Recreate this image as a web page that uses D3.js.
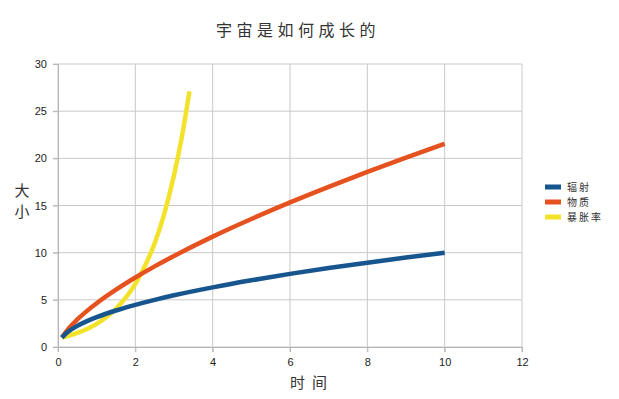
<!DOCTYPE html>
<html>
<head>
<meta charset="utf-8">
<script src="https://cdn.jsdelivr.net/npm/d3@7"></script>
<style>
  body { margin: 0; background: #fff; }
  text { font-family: "Liberation Sans", Arial, sans-serif; }
  .cjk { font-family: "Noto Sans CJK SC", sans-serif; }
</style>
</head>
<body>
<svg id="chart" width="619" height="399"></svg>
<script>
// data
const seriesNames = ["辐射", "物质", "暴胀率"];
const colors = ["#17558f", "#e6521f", "#f3e22a"];

const radiationT = [0.1, 0.25, 0.5, 0.75, 1, 1.5, 2, 2.5, 3, 4, 5, 6, 7, 8, 9, 10];
const radiationY = [1, 1.58, 2.24, 2.74, 3.16, 3.87, 4.47, 5.0, 5.48, 6.32, 7.07, 7.75, 8.37, 8.94, 9.49, 10];

const matterT = [0.1, 0.25, 0.5, 0.75, 1, 1.5, 2, 2.5, 3, 4, 5, 6, 7, 8, 9, 10];
const matterY = [1, 1.84, 2.92, 3.83, 4.64, 6.08, 7.37, 8.55, 9.65, 11.7, 13.57, 15.33, 16.98, 18.57, 20.08, 21.54];

const inflationT = [0.1, 0.5, 1, 1.5, 2, 2.25, 2.5, 2.75, 3, 3.2, 3.4];
const inflationY = [1, 1.49, 2.46, 4.06, 6.69, 8.6, 11.0, 14.15, 18.2, 22.2, 27.1];

const xTicks = [0, 2, 4, 6, 8, 10, 12];
const yTicks = [0, 5, 10, 15, 20, 25, 30];

const svg = d3.select("#chart");
const plotLeft = 58, plotRight = 522, plotTop = 64, plotBottom = 347;

const x = d3.scaleLinear().domain([0, 12]).range([plotLeft, plotRight]);
const y = d3.scaleLinear().domain([0, 30]).range([plotBottom, plotTop]);

// grid
svg.append("g")
  .selectAll("line")
  .data(xTicks)
  .join("line")
  .attr("x1", d => x(d)).attr("x2", d => x(d))
  .attr("y1", plotTop).attr("y2", plotBottom + 5)
  .attr("stroke", "#c9c9c9").attr("stroke-width", 1);

svg.append("g")
  .selectAll("line")
  .data(yTicks)
  .join("line")
  .attr("x1", plotLeft - 5).attr("x2", plotRight)
  .attr("y1", d => y(d)).attr("y2", d => y(d))
  .attr("stroke", "#c9c9c9").attr("stroke-width", 1);

// axes
const xAxis = svg.append("g")
  .attr("transform", `translate(0, ${plotBottom})`)
  .call(d3.axisBottom(x).tickValues(xTicks).tickSize(5).tickPadding(6));
const yAxis = svg.append("g")
  .attr("transform", `translate(${plotLeft}, 0)`)
  .call(d3.axisLeft(y).tickValues(yTicks).tickSize(5).tickPadding(6));

[xAxis, yAxis].forEach(a => {
  a.select(".domain").attr("stroke", "#b5b5b5");
  a.selectAll(".tick line").attr("stroke", "#b5b5b5");
  a.selectAll("text").attr("font-size", 11).attr("fill", "#222");
});

// lines
const line = d3.line()
  .x(d => x(d[0]))
  .y(d => y(d[1]))
  .curve(d3.curveMonotoneX);

const series = [
  d3.zip(radiationT, radiationY),
  d3.zip(matterT, matterY),
  d3.zip(inflationT, inflationY)
];

// yellow first, then orange, blue on top
[2, 1, 0].forEach(i => {
  svg.append("path")
    .datum(series[i])
    .attr("d", line)
    .attr("fill", "none")
    .attr("stroke", colors[i])
    .attr("stroke-width", 4.5)
    .attr("stroke-linecap", "butt");
});

// title & axis labels
svg.append("text")
  .attr("class", "cjk")
  .attr("x", 216).attr("y", 36)
  .attr("font-size", 16)
  .attr("letter-spacing", 4.5)
  .attr("fill", "#333")
  .text("宇宙是如何成长的");

svg.append("text")
  .attr("class", "cjk")
  .attr("x", 290).attr("y", 388)
  .attr("font-size", 15)
  .attr("letter-spacing", 7)
  .attr("fill", "#333")
  .text("时间");

["大", "小"].forEach((c, i) => {
  svg.append("text")
    .attr("class", "cjk")
    .attr("x", 22).attr("y", 196 + i * 21)
    .attr("text-anchor", "middle")
    .attr("font-size", 15)
    .attr("fill", "#333")
    .text(c);
});

// legend
const legend = svg.append("g")
  .attr("transform", "translate(545, 187)");

const legendItems = legend.selectAll(".legend-item")
  .data(seriesNames)
  .join("g")
  .attr("class", "legend-item")
  .attr("transform", (d, i) => `translate(0, ${i * 15})`);

legendItems.append("rect")
  .attr("x", 0).attr("y", -2.5)
  .attr("width", 16).attr("height", 5)
  .attr("fill", (d, i) => colors[i]);

legendItems.append("text")
  .attr("class", "cjk")
  .attr("x", 22).attr("y", 3.5)
  .attr("font-size", 10)
  .attr("letter-spacing", 2)
  .attr("fill", "#333")
  .text(d => d);
</script>
</body>
</html>
